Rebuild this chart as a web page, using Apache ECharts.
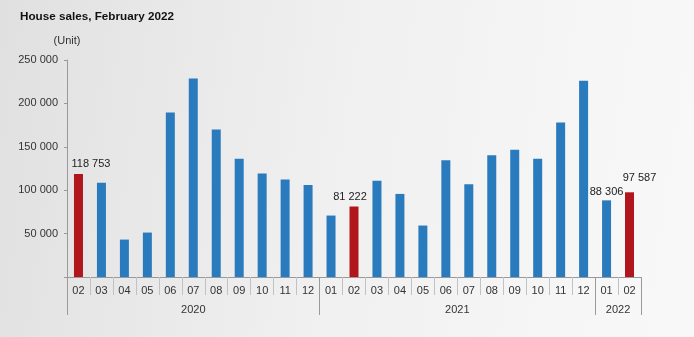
<!DOCTYPE html>
<html>
<head>
<meta charset="utf-8">
<title>House sales, February 2022</title>
<script src="https://cdn.jsdelivr.net/npm/echarts@6/dist/echarts.min.js"></script>
<style>
  html, body { margin: 0; padding: 0; }
  #chart { width: 694px; height: 337px; }
</style>
</head>
<body>
<div id="chart"></div>
<script>
// Monthly house sales (units), February 2020 – February 2022
const months = ['02','03','04','05','06','07','08','09','10','11','12',
                '01','02','03','04','05','06','07','08','09','10','11','12',
                '01','02'];
const sales = [118753, 108500, 43100, 51200, 189600, 228800, 170000, 136100, 119300, 112300, 106100,
               70800, 81222, 111000, 95700, 59300, 134600, 106900, 140400, 146500, 136100, 178100, 226100,
               88306, 97587];
const years = ['2020', '2021', '2022'];
const monthsPerYear = [11, 12, 2];
// February of each year is highlighted
const highlighted = [0, 12, 24];
// Bars with a value label
const labelled = [0, 12, 23, 24];
const yTicks = [0, 50000, 100000, 150000, 200000, 250000];

const BLUE = '#2a7bbd';
const RED = '#b2161d';
const FONT = '"Liberation Sans", Arial, sans-serif';

function fmt(v) {
  return String(v).replace(/\B(?=(\d{3})+(?!\d))/g, ' ');
}

// Nudges for the value labels so they sit beside/above their bars
const labelNudge = { 0: [12.5, 0], 12: [-4, 0], 23: [0, 1], 24: [10, -4.5] };

const barData = sales.map((v, i) => {
  const item = { value: v, itemStyle: { color: highlighted.includes(i) ? RED : BLUE } };
  if (labelled.includes(i)) {
    item.label = {
      show: true, position: 'top', distance: 4,
      offset: labelNudge[i] || [0, 0],
      formatter: p => fmt(p.value),
      fontSize: 11, color: '#222', fontFamily: FONT
    };
  }
  return item;
});

// Year group boundaries and centres on a 0..N scale of category slots
const bounds = [0];
monthsPerYear.forEach(n => bounds.push(bounds[bounds.length - 1] + n));
const centres = monthsPerYear.map((n, i) => bounds[i] + n / 2);

const chart = echarts.init(document.getElementById('chart'), null, { renderer: 'canvas' });
chart.setOption({
  backgroundColor: {
    type: 'linear', x: 0, y: 0, x2: 1, y2: 0.3,
    colorStops: [
      { offset: 0, color: '#e0e0e0' },
      { offset: 0.2, color: '#e7e7e7' },
      { offset: 0.5, color: '#f0f0f0' },
      { offset: 0.8, color: '#f5f5f5' },
      { offset: 1, color: '#f8f8f8' }
    ]
  },
  animation: false,
  textStyle: { fontFamily: FONT },
  title: {
    text: 'House sales, February 2022',
    left: 15, top: 6,
    textStyle: { fontSize: 11.7, fontWeight: 'bold', color: '#111', fontFamily: FONT }
  },
  grid: { left: 67, right: 53, top: 60, bottom: 60, containLabel: false },
  xAxis: [
    {
      type: 'category',
      data: months,
      boundaryGap: true,
      axisLine: { show: true, lineStyle: { color: '#999', width: 1 } },
      axisTick: { show: true, interval: 0, length: 18, lineStyle: { color: '#c2c2c2' } },
      axisLabel: { interval: 0, margin: 8, fontSize: 11, color: '#333', fontFamily: FONT }
    },
    {
      type: 'value',
      position: 'bottom',
      min: 0, max: bounds[bounds.length - 1],
      axisLine: { show: false },
      splitLine: { show: false },
      axisTick: { show: true, customValues: bounds, length: 38, lineStyle: { color: '#9a9a9a' } },
      axisLabel: {
        customValues: centres, margin: 27, fontSize: 11, color: '#333', fontFamily: FONT,
        formatter: v => years[centres.indexOf(v)] || ''
      }
    }
  ],
  yAxis: {
    type: 'value',
    min: yTicks[0], max: yTicks[yTicks.length - 1], interval: 50000,
    name: '(Unit)',
    nameLocation: 'end',
    nameGap: 14,
    nameTextStyle: { fontSize: 11, color: '#333', align: 'center', padding: [0, 0, 0, 0], fontFamily: FONT },
    axisLine: { show: true, lineStyle: { color: '#999' } },
    axisTick: { show: true, length: 3, lineStyle: { color: '#999' } },
    splitLine: { show: false },
    axisLabel: {
      margin: 9, fontSize: 11, color: '#333', fontFamily: FONT,
      formatter: v => (v === 0 ? '' : fmt(v))
    }
  },
  series: [{
    type: 'bar',
    xAxisIndex: 0,
    data: barData,
    barWidth: 9
  }]
});
</script>
</body>
</html>
